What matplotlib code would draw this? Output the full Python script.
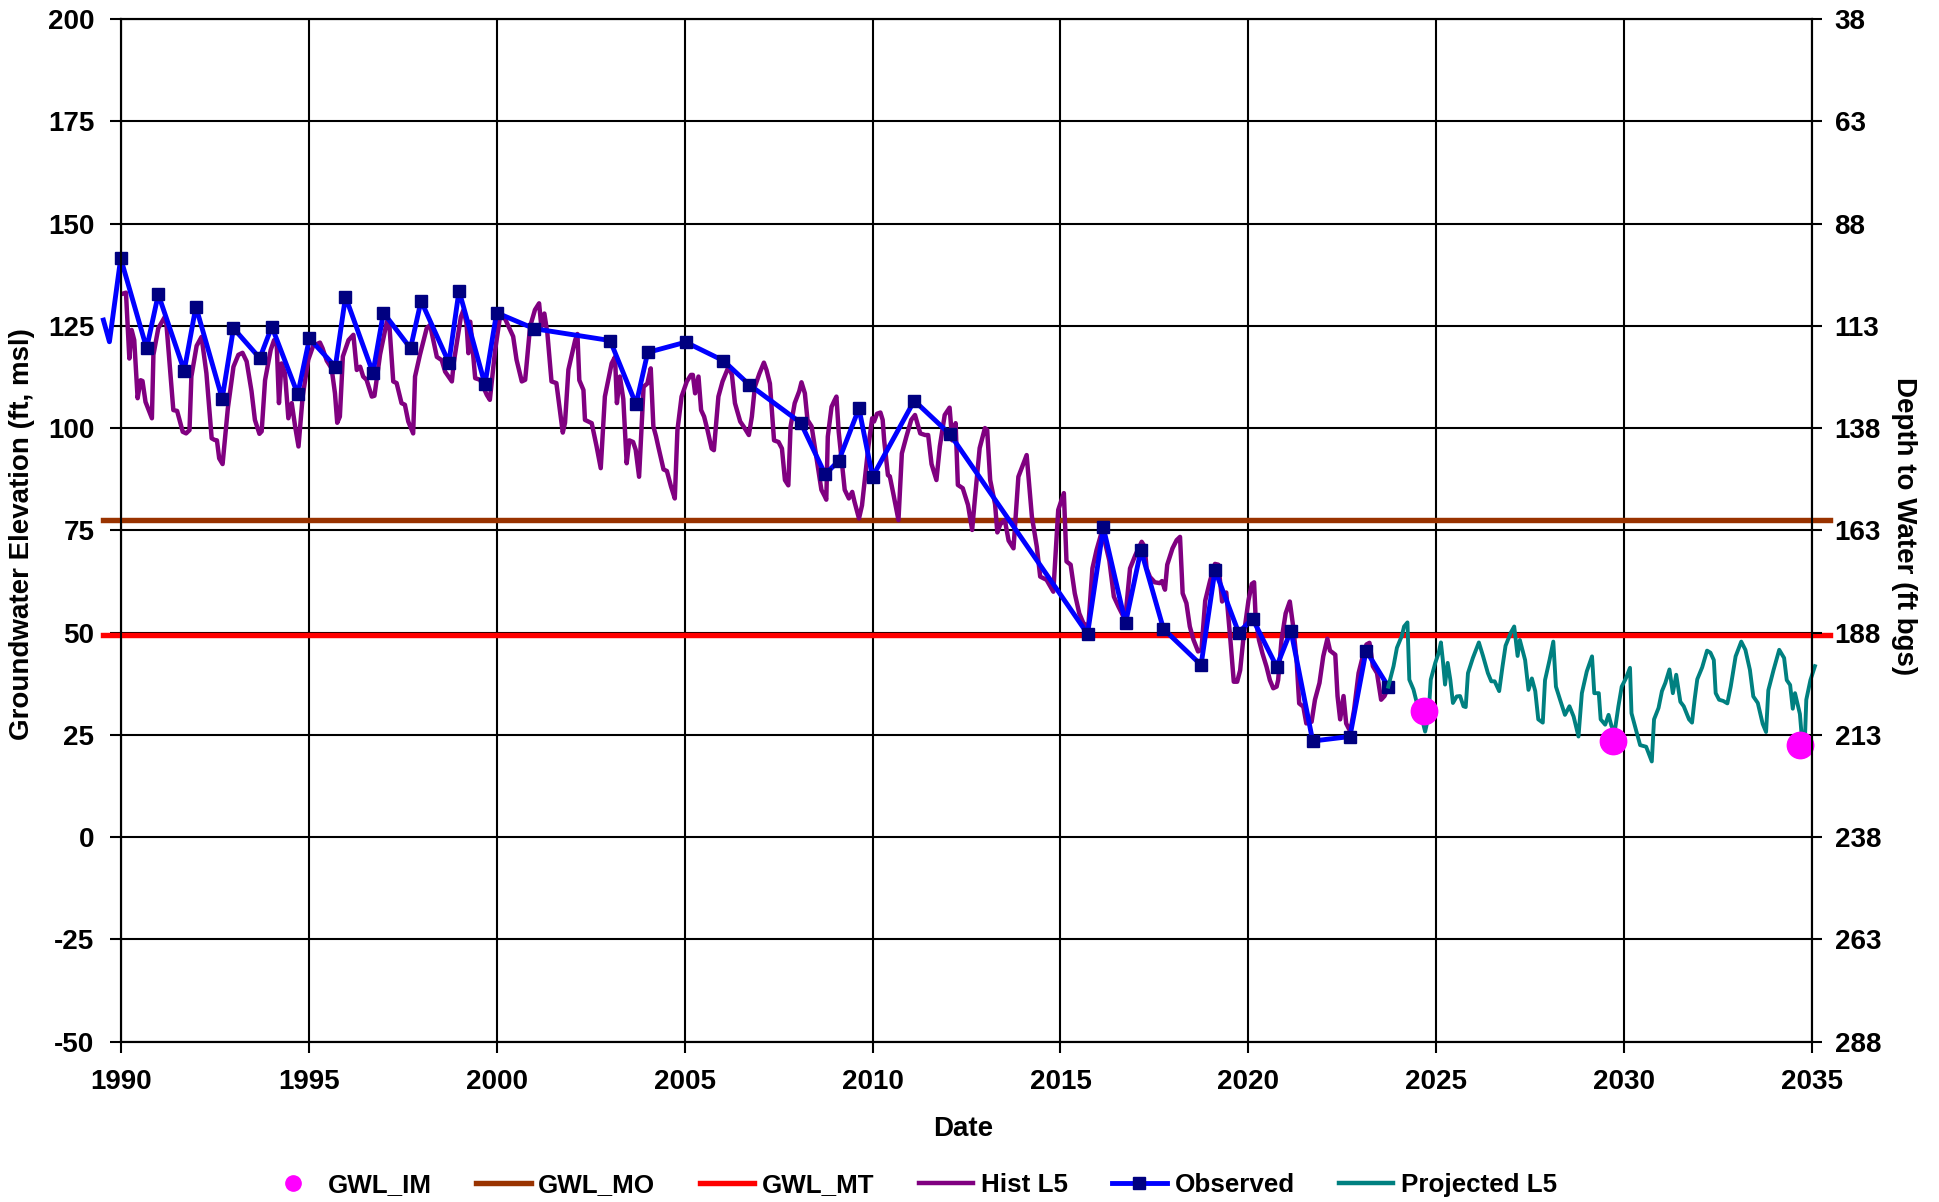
import matplotlib
matplotlib.use("Agg")
import matplotlib.pyplot as plt
from matplotlib.lines import Line2D

plt.rcParams['font.family'] = ['Liberation Sans', 'DejaVu Sans']
plt.rcParams['font.weight'] = 'bold'
plt.rcParams['axes.unicode_minus'] = False

# ---------------------------------------------------------------------------
# Data (decimal years, groundwater elevation in ft msl)
# ---------------------------------------------------------------------------
gwl_mo = 77.5
gwl_mt = 49.3
line_start, line_end = 1989.53, 2035.47

im_years = [2024.67, 2029.69, 2034.67]
im_elev = [30.9, 23.6, 22.5]

obs_years = [1989.54, 1989.70, 1990.00, 1990.69, 1991.00, 1991.69, 1992.00, 1992.70,
             1993.00, 1993.70, 1994.02, 1994.71, 1995.02, 1995.71, 1995.98, 1996.71,
             1996.99, 1997.71, 1997.99, 1998.73, 1999.00, 1999.69, 2000.00, 2001.00,
             2003.02, 2003.71, 2004.02, 2005.03, 2006.03, 2006.72, 2008.09, 2008.74,
             2009.10, 2009.64, 2010.00, 2011.11, 2012.06, 2015.72, 2016.14, 2016.73,
             2017.14, 2017.74, 2018.74, 2019.11, 2019.74, 2020.11, 2020.75, 2021.13,
             2021.71, 2022.70, 2023.13, 2023.72]
obs_elev = [126.4, 121.1, 141.5, 119.5, 132.7, 114.0, 129.7, 107.2,
            124.4, 117.1, 124.8, 108.3, 121.9, 115.0, 132.1, 113.5,
            128.2, 119.5, 131.1, 116.0, 133.6, 110.7, 128.2, 124.3,
            121.4, 105.8, 118.5, 121.0, 116.5, 110.6, 101.3, 88.7,
            92.0, 104.8, 88.1, 106.7, 98.5, 49.7, 75.7, 52.3,
            70.2, 50.9, 42.1, 65.3, 50.0, 53.4, 41.7, 50.5,
            23.5, 24.6, 45.6, 36.8]

hist_years = [
    1990.07, 1990.14, 1990.23, 1990.29, 1990.36, 1990.45, 1990.53, 1990.58, 1990.66, 1990.83,
    1990.87, 1991.00, 1991.18, 1991.22, 1991.40, 1991.50, 1991.65, 1991.74, 1991.83, 1991.88,
    1992.02, 1992.15, 1992.28, 1992.42, 1992.50, 1992.56, 1992.62, 1992.71, 1992.85, 1993.00,
    1993.13, 1993.24, 1993.35, 1993.48, 1993.57, 1993.69, 1993.75, 1993.84, 1993.99, 1994.08,
    1994.15, 1994.21, 1994.28, 1994.37, 1994.46, 1994.55, 1994.64, 1994.73, 1994.84, 1994.99,
    1995.12, 1995.30, 1995.37, 1995.48, 1995.61, 1995.70, 1995.76, 1995.83, 1995.91, 1996.06,
    1996.19, 1996.28, 1996.37, 1996.45, 1996.54, 1996.68, 1996.75, 1996.90, 1997.08, 1997.15,
    1997.25, 1997.34, 1997.47, 1997.56, 1997.65, 1997.78, 1997.83, 1997.96, 1998.14, 1998.23,
    1998.41, 1998.54, 1998.63, 1998.81, 1998.86, 1999.05, 1999.12, 1999.20, 1999.25, 1999.30,
    1999.43, 1999.56, 1999.74, 1999.82, 1999.96, 2000.09, 2000.22, 2000.44, 2000.53, 2000.67,
    2000.76, 2000.89, 2001.02, 2001.13, 2001.19, 2001.27, 2001.35, 2001.46, 2001.59, 2001.76,
    2001.82, 2001.91, 2002.09, 2002.15, 2002.20, 2002.31, 2002.35, 2002.53, 2002.66, 2002.77,
    2002.88, 2003.06, 2003.15, 2003.20, 2003.28, 2003.37, 2003.46, 2003.53, 2003.63, 2003.70,
    2003.79, 2003.91, 2004.01, 2004.10, 2004.17, 2004.24, 2004.30, 2004.44, 2004.53, 2004.64,
    2004.74, 2004.81, 2004.92, 2005.06, 2005.17, 2005.22, 2005.28, 2005.37, 2005.44, 2005.52,
    2005.61, 2005.72, 2005.78, 2005.90, 2006.01, 2006.17, 2006.26, 2006.34, 2006.48, 2006.57,
    2006.71, 2006.79, 2006.87, 2006.99, 2007.11, 2007.18, 2007.27, 2007.38, 2007.50, 2007.59,
    2007.67, 2007.76, 2007.82, 2007.93, 2008.05, 2008.11, 2008.20, 2008.27, 2008.38, 2008.47,
    2008.64, 2008.73, 2008.77, 2008.81, 2008.91, 2008.99, 2009.04, 2009.10, 2009.26, 2009.37,
    2009.46, 2009.52, 2009.64, 2009.72, 2009.89, 2009.99, 2010.04, 2010.12, 2010.21, 2010.27,
    2010.31, 2010.41, 2010.46, 2010.55, 2010.69, 2010.78, 2010.90, 2011.03, 2011.13, 2011.27,
    2011.40, 2011.48, 2011.57, 2011.70, 2011.79, 2011.92, 2012.05, 2012.12, 2012.21, 2012.27,
    2012.40, 2012.54, 2012.65, 2012.72, 2012.85, 2012.99, 2013.05, 2013.13, 2013.26, 2013.32,
    2013.40, 2013.52, 2013.62, 2013.75, 2013.88, 2014.10, 2014.24, 2014.37, 2014.46, 2014.63,
    2014.81, 2014.94, 2015.09, 2015.16, 2015.27, 2015.38, 2015.50, 2015.61, 2015.74, 2015.85,
    2015.96, 2016.10, 2016.17, 2016.30, 2016.42, 2016.54, 2016.72, 2016.85, 2016.99, 2017.16,
    2017.24, 2017.29, 2017.38, 2017.51, 2017.64, 2017.70, 2017.78, 2017.84, 2017.98, 2018.09,
    2018.18, 2018.25, 2018.35, 2018.44, 2018.54, 2018.66, 2018.75, 2018.85, 2018.98, 2019.11,
    2019.20, 2019.30, 2019.41, 2019.52, 2019.61, 2019.70, 2019.78, 2019.87, 2020.00, 2020.09,
    2020.15, 2020.19, 2020.28, 2020.37, 2020.48, 2020.57, 2020.66, 2020.75, 2020.79, 2020.88,
    2020.99, 2021.10, 2021.19, 2021.28, 2021.35, 2021.46, 2021.54, 2021.68, 2021.77, 2021.89,
    2021.99, 2022.10, 2022.17, 2022.31, 2022.37, 2022.44, 2022.53, 2022.60, 2022.71, 2022.81,
    2022.93, 2023.02, 2023.14, 2023.22, 2023.31, 2023.42, 2023.53, 2023.62, 2023.72]
hist_elev = [
    132.9, 133.1, 117.0, 124.0, 121.5, 107.3, 111.7, 111.5, 106.4, 102.4,
    117.9, 124.4, 127.3, 125.0, 104.4, 104.2, 99.1, 98.7, 99.5, 112.6,
    120.1, 122.3, 113.4, 97.5, 97.1, 97.0, 92.6, 91.2, 104.8, 115.0,
    117.9, 118.4, 116.3, 109.0, 102.0, 98.6, 99.2, 111.7, 119.1, 121.5,
    120.5, 106.1, 115.8, 113.4, 102.4, 106.1, 100.4, 95.5, 107.7, 116.7,
    120.1, 120.9, 119.5, 116.5, 114.6, 108.5, 101.3, 102.8, 117.5, 121.5,
    122.8, 114.2, 115.0, 112.6, 111.8, 107.7, 107.9, 118.0, 126.0, 124.8,
    111.4, 111.0, 106.1, 105.7, 101.6, 98.7, 112.6, 117.9, 124.4, 125.2,
    117.4, 116.6, 113.8, 111.4, 116.0, 127.2, 128.9, 125.5, 118.3, 126.0,
    112.2, 111.8, 108.1, 106.9, 119.0, 127.2, 126.8, 122.4, 116.7, 111.4,
    111.8, 124.8, 128.9, 130.5, 124.8, 128.0, 123.2, 111.4, 111.0, 98.9,
    101.3, 114.3, 121.5, 123.0, 111.7, 109.3, 102.0, 101.2, 95.5, 90.2,
    107.7, 115.8, 117.4, 106.1, 112.6, 107.1, 91.4, 97.0, 96.6, 94.7,
    88.1, 110.1, 110.9, 114.6, 100.4, 98.0, 95.5, 89.9, 89.5, 85.7,
    82.8, 99.5, 107.7, 111.4, 113.0, 113.0, 108.5, 112.6, 104.4, 102.8,
    99.5, 95.0, 94.6, 107.7, 111.4, 115.0, 113.0, 106.1, 101.6, 100.4,
    98.3, 102.8, 110.1, 113.3, 116.0, 114.2, 110.9, 97.0, 96.6, 95.0,
    87.3, 86.0, 100.4, 106.1, 109.0, 111.2, 108.5, 102.0, 100.4, 95.0,
    84.9, 83.3, 82.5, 97.9, 105.2, 106.8, 107.7, 99.1, 84.9, 82.8,
    84.4, 82.0, 77.9, 81.1, 95.5, 102.4, 101.6, 103.5, 103.8, 102.0,
    97.0, 88.5, 88.2, 84.1, 77.5, 93.8, 97.9, 102.0, 103.2, 98.7,
    98.3, 98.3, 91.2, 87.3, 95.5, 103.2, 105.0, 97.0, 101.2, 86.1,
    85.3, 81.2, 75.1, 82.4, 95.1, 100.0, 99.5, 87.3, 81.4, 74.5,
    76.5, 77.5, 72.5, 70.6, 88.1, 93.4, 78.3, 71.0, 63.7, 62.9,
    60.0, 80.0, 84.1, 67.4, 66.6, 59.6, 54.7, 52.3, 51.5, 65.7,
    70.2, 74.7, 72.6, 67.6, 58.8, 56.4, 53.1, 65.7, 68.9, 72.2,
    71.0, 65.7, 63.6, 62.3, 62.1, 62.6, 60.5, 66.6, 70.6, 72.6,
    73.4, 59.6, 57.2, 51.5, 48.2, 45.4, 45.8, 57.8, 62.7, 66.8,
    66.6, 57.6, 59.8, 48.2, 38.0, 38.0, 40.8, 49.0, 57.8, 61.9,
    62.3, 53.9, 48.2, 45.0, 41.7, 38.4, 36.4, 36.8, 38.4, 48.2,
    54.7, 57.6, 51.5, 43.4, 32.7, 31.9, 27.8, 28.2, 33.6, 37.7,
    44.2, 48.5, 45.6, 44.6, 34.5, 28.8, 34.5, 27.8, 25.8, 31.1,
    40.1, 43.4, 47.1, 47.5, 41.8, 40.1, 33.6, 34.5, 36.8]

proj_years = [
    2023.72, 2023.86, 2023.95, 2024.08, 2024.14, 2024.23, 2024.28, 2024.39, 2024.48, 2024.57,
    2024.70, 2024.79, 2024.85, 2024.97, 2025.06, 2025.12, 2025.17, 2025.23, 2025.30, 2025.37,
    2025.44, 2025.54, 2025.63, 2025.72, 2025.78, 2025.84, 2025.97, 2026.13, 2026.24, 2026.37,
    2026.46, 2026.55, 2026.67, 2026.76, 2026.84, 2026.98, 2027.07, 2027.16, 2027.22, 2027.36,
    2027.45, 2027.54, 2027.63, 2027.71, 2027.83, 2027.89, 2028.01, 2028.11, 2028.18, 2028.29,
    2028.42, 2028.54, 2028.65, 2028.78, 2028.87, 2029.00, 2029.14, 2029.20, 2029.32, 2029.37,
    2029.49, 2029.58, 2029.66, 2029.75, 2029.84, 2029.93, 2030.04, 2030.15, 2030.19, 2030.31,
    2030.42, 2030.58, 2030.73, 2030.79, 2030.91, 2031.00, 2031.09, 2031.20, 2031.29, 2031.38,
    2031.49, 2031.58, 2031.72, 2031.80, 2031.87, 2031.94, 2032.07, 2032.20, 2032.29, 2032.38,
    2032.43, 2032.52, 2032.63, 2032.74, 2032.83, 2032.96, 2033.11, 2033.22, 2033.34, 2033.43,
    2033.55, 2033.68, 2033.77, 2033.83, 2033.97, 2034.12, 2034.25, 2034.32, 2034.41, 2034.48,
    2034.54, 2034.67, 2034.74, 2034.80, 2034.84, 2034.95, 2035.07]
proj_elev = [
    36.8, 41.8, 46.3, 49.2, 51.5, 52.5, 38.5, 36.1, 32.8, 30.7,
    25.8, 29.5, 38.5, 42.6, 45.0, 47.6, 43.4, 37.3, 42.6, 38.5,
    32.8, 34.4, 34.5, 32.0, 31.8, 40.1, 43.8, 47.6, 44.3, 40.1,
    38.1, 38.1, 35.7, 41.8, 46.8, 50.0, 51.5, 44.3, 48.2, 43.3,
    36.0, 38.8, 35.7, 28.8, 28.0, 38.4, 43.3, 47.8, 36.8, 33.6,
    29.9, 32.0, 29.5, 24.6, 35.2, 40.5, 44.2, 35.2, 35.2, 28.8,
    27.5, 29.9, 27.1, 26.2, 31.9, 36.8, 38.8, 41.4, 30.3, 26.2,
    22.5, 22.1, 18.5, 28.8, 31.6, 35.7, 37.7, 41.0, 35.2, 39.7,
    33.1, 32.0, 28.8, 28.0, 33.7, 38.6, 41.5, 45.6, 45.1, 43.3,
    35.2, 33.6, 33.3, 32.7, 36.8, 44.2, 47.8, 45.8, 40.9, 34.4,
    32.8, 27.7, 25.7, 35.9, 40.9, 45.8, 43.8, 38.4, 37.2, 31.4,
    35.2, 30.1, 22.3, 23.0, 33.6, 38.4, 41.8]

# Depth to water = land surface (238 ft) minus elevation
land_surface = 238

# ---------------------------------------------------------------------------
# Figure
# ---------------------------------------------------------------------------
fig = plt.figure(figsize=(19.39, 12.02), dpi=100)
ax = fig.add_axes([0.06225, 0.13336, 0.87241, 0.85083])

ax.plot([line_start, line_end], [gwl_mo, gwl_mo], color='#993300', lw=3.9,
        clip_on=False, zorder=3)
ax.plot([line_start, line_end], [gwl_mt, gwl_mt], color='#FF0000', lw=3.9,
        clip_on=False, zorder=3)
ax.plot(hist_years, hist_elev, color='#800080', lw=3.2, clip_on=False, zorder=4)
ax.plot(obs_years, obs_elev, color='#0000FF', lw=3.5, marker='s', markersize=8.5,
        markerfacecolor='#000080', markeredgecolor='#000080',
        markevery=list(range(2, len(obs_years))), clip_on=False, zorder=5)
ax.plot(proj_years, proj_elev, color='#008080', lw=2.8, clip_on=False, zorder=6)
ax.plot(im_years, im_elev, linestyle='none', marker='o', markersize=19,
        color='#FF00FF', clip_on=False, zorder=7)

ax.set_xlim(1990, 2035)
ax.set_ylim(-50, 200)
ax.set_xticks(range(1990, 2036, 5))
ax.set_yticks(range(-50, 201, 25))
ax.grid(True, color='black', lw=1.5)
ax.set_axisbelow(True)
for s in ax.spines.values():
    s.set_linewidth(1.5)
ax.tick_params(direction='out', length=8, width=1.5, labelsize=20, colors='black')
ax.tick_params(axis='x', pad=12)
ax.tick_params(axis='y', pad=11)

ax2 = ax.twinx()
ax2.set_ylim(land_surface + 50, land_surface - 200)
ax2.set_yticks(range(land_surface - 200, land_surface + 51, 25))
ax2.tick_params(direction='out', length=7, width=1.5, labelsize=20, pad=9)
for s in ax2.spines.values():
    s.set_linewidth(1.5)

fig.text(0.0113, 0.5557, 'Groundwater Elevation (ft, msl)', rotation=90,
         ha='center', va='center', fontsize=20)
fig.text(0.982, 0.5626, 'Depth to Water (ft bgs)', rotation=270,
         ha='center', va='center', fontsize=20)
fig.text(0.497, 0.0607, 'Date', ha='center', va='center', fontsize=20)

handles = [
    Line2D([], [], linestyle='none', marker='o', markersize=11, color='#FF00FF'),
    Line2D([], [], color='#993300', lw=3.9),
    Line2D([], [], color='#FF0000', lw=3.9),
    Line2D([], [], color='#800080', lw=3.2),
    Line2D([], [], color='#0000FF', lw=3.5, marker='s', markersize=8,
           markerfacecolor='#000080', markeredgecolor='#000080'),
    Line2D([], [], color='#008080', lw=3.2),
]
labels = ['GWL_IM', 'GWL_MO', 'GWL_MT', 'Hist L5', 'Observed', 'Projected L5']
fig.legend(handles, labels, ncol=6, loc='center', bbox_to_anchor=(0.470, 0.0141),
           frameon=False, fontsize=18.7, handlelength=2.1, handletextpad=0.3,
           columnspacing=1.7)

fig.savefig('out.png', dpi=100)
